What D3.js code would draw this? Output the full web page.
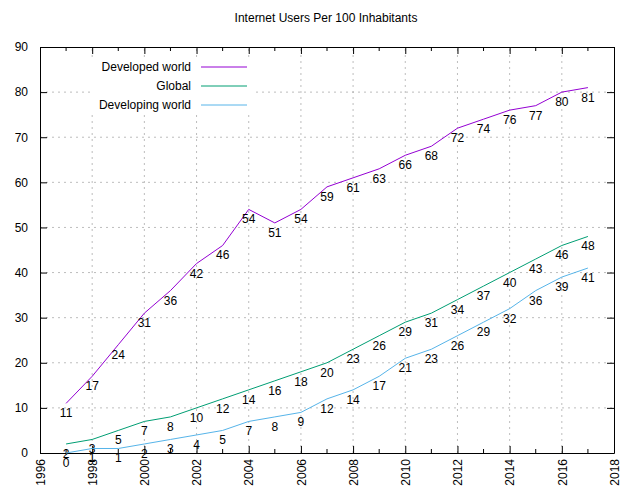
<!DOCTYPE html>
<html><head><meta charset="utf-8">
<script src="https://cdn.jsdelivr.net/npm/d3@7"></script>
<style>body{margin:0;background:#fff}text{font-family:"Liberation Sans",Arial,sans-serif;font-size:12px}</style>
</head><body><div id="app"></div>
<script>
const years = d3.range(1997, 2018);
const developed = [11,17,24,31,36,42,46,54,51,54,59,61,63,66,68,72,74,76,77,80,81];
const global = [2,3,5,7,8,10,12,14,16,18,20,23,26,29,31,34,37,40,43,46,48];
const developing = [0,1,1,2,3,4,5,7,8,9,12,14,17,21,23,26,29,32,36,39,41];
const series = [
  {name: 'Developed world', values: developed, color: '#9400d3'},
  {name: 'Global', values: global, color: '#009e73'},
  {name: 'Developing world', values: developing, color: '#56b4e9'}
];

const width = 631, height = 499;
const m = {left: 40, right: 17, top: 47, bottom: 46};
const svg = d3.select('#app').append('svg').attr('width', width).attr('height', height);

const x = d3.scaleLinear().domain([1996, 2018]).range([m.left, width - m.right]);
const y = d3.scaleLinear().domain([0, 90]).range([height - m.bottom, m.top]);

// grid
const grid = svg.append('g').attr('stroke', '#a0a0a0').attr('stroke-dasharray', '2,4').attr('stroke-width', 0.7);
d3.range(1998, 2018, 2).forEach(v => grid.append('line').attr('x1', x(v)).attr('x2', x(v)).attr('y1', y(0)).attr('y2', y(90)));
d3.range(10, 90, 10).forEach(v => grid.append('line').attr('x1', x(1996)).attr('x2', x(2018)).attr('y1', y(v)).attr('y2', y(v)));

// axes
const axX = d3.axisBottom(x).tickValues(d3.range(1996, 2019, 2)).tickFormat(d3.format('d')).tickSizeInner(-7).tickSizeOuter(0);
const gx = svg.append('g').attr('transform', `translate(0,${y(0)})`).call(axX);
gx.selectAll('text').attr('transform', 'rotate(-90)').attr('text-anchor', 'end')
  .attr('x', -6).attr('y', 0).attr('dy', '0.35em').attr('font-size', 12);
svg.append('g').attr('transform', `translate(0,${y(90)})`)
  .call(d3.axisTop(x).tickValues(d3.range(1996, 2019, 2)).tickFormat('').tickSizeInner(-7).tickSizeOuter(0));
const minor = svg.append('g').attr('stroke', '#000');
d3.range(1997, 2018, 2).forEach(v => {
  minor.append('line').attr('x1', x(v)).attr('x2', x(v)).attr('y1', y(0)).attr('y2', y(0) - 4);
  minor.append('line').attr('x1', x(v)).attr('x2', x(v)).attr('y1', y(90)).attr('y2', y(90) + 4);
});
svg.append('g').attr('transform', `translate(${x(1996)},0)`)
  .call(d3.axisLeft(y).ticks(9).tickSizeInner(-7).tickSizeOuter(0).tickPadding(12));
svg.append('g').attr('transform', `translate(${x(2018)},0)`)
  .call(d3.axisRight(y).ticks(9).tickFormat('').tickSizeInner(-7).tickSizeOuter(0));
svg.selectAll('.domain').attr('stroke', '#000');
svg.selectAll('.tick text').attr('font-family', '"Liberation Sans",Arial,sans-serif').attr('font-size', 12).attr('fill', '#000');

// legend background + lines
svg.append('rect').attr('x', 90).attr('y', 57).attr('width', 165).attr('height', 58).attr('fill', '#fff');
const line = d3.line().x((d, i) => x(years[i])).y(d => y(d));
series.forEach((s, k) => {
  svg.append('path').datum(s.values).attr('d', line).attr('fill', 'none').attr('stroke', s.color).attr('stroke-width', 1);
  svg.append('g').selectAll('text').data(s.values).enter().append('text')
    .attr('x', (d, i) => x(years[i])).attr('y', d => y(d) + 14)
    .attr('text-anchor', 'middle').text(d => d);
  const ly = 67 + k * 19;
  svg.append('text').attr('x', 191).attr('y', ly).attr('dy', '0.35em').attr('text-anchor', 'end').text(s.name);
  svg.append('line').attr('x1', 201).attr('x2', 247).attr('y1', ly).attr('y2', ly).attr('stroke', s.color);
});

svg.append('text').attr('x', 326).attr('y', 22).attr('text-anchor', 'middle').text('Internet Users Per 100 Inhabitants');
</script></body></html>
